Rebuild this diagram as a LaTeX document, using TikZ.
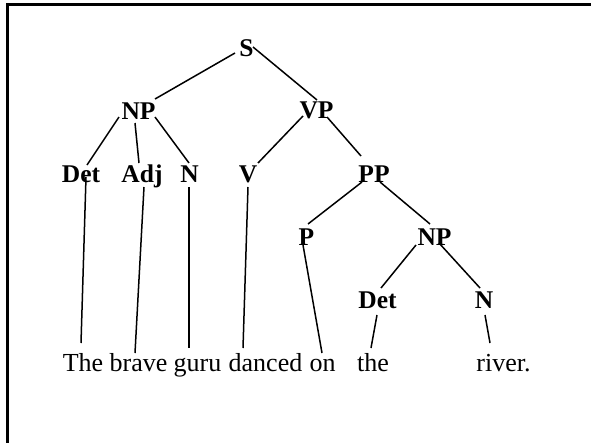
\documentclass[tikz,border=0pt]{standalone}
\usepackage{fontspec}
\setmainfont{Liberation Serif}
\begin{document}
\begin{tikzpicture}[x=1pt,y=1pt,
  cat/.style={anchor=base,inner sep=0pt,font=\fontsize{25.5}{30}\selectfont\bfseries},
  word/.style={anchor=base,inner sep=0pt,font=\fontsize{26}{30}\selectfont},
  branch/.style={line width=1.5pt,black},
  frame/.style={line width=3pt,black}]
\useasboundingbox (0,0) rectangle (591,-442);
\clip (0,0) rectangle (591,-442);
\draw[frame] (7.5,-460) |- (610,-4.5);
% category labels
\node[cat] (S)    at (246.5,-56)  {S};
\node[cat] (NP)   at (138.5,-119) {NP};
\node[cat] (VP)   at (316.5,-118) {VP};
\node[cat] (Det)  at (81,-182)    {Det};
\node[cat] (Adj)  at (142,-182)   {Adj};
\node[cat] (N)    at (189.5,-182) {N};
\node[cat] (V)    at (248,-182)   {V};
\node[cat] (PP)   at (374,-182)   {PP};
\node[cat] (P)    at (306.5,-245) {P};
\node[cat] (NPb)  at (434.5,-245) {NP};
\node[cat] (Detb) at (377.5,-308) {Det};
\node[cat] (Nb)   at (484,-308)   {N};
% words
\node[word] (w1) at (83,-371)    {The};
\node[word] (w2) at (138.5,-371) {brave};
\node[word] (w3) at (197.5,-371) {guru};
\node[word] (w4) at (265.5,-371) {danced};
\node[word] (w5) at (322.5,-371) {on};
\node[word] (w6) at (373,-371)   {the};
\node[word] (w7) at (503.5,-371) {river.};
% branches
\draw[branch] ([shift={(-11.5,3)}]S.base) -- ([shift={(16.5,20)}]NP.base);
\draw[branch] ([shift={(6.5,9)}]S.base) -- ([shift={(0.5,18)}]VP.base);
\draw[branch] ([shift={(-19.5,2)}]NP.base) -- ([shift={(6,17)}]Det.base);
\draw[branch] ([shift={(-3.5,-4)}]NP.base) -- ([shift={(-3,19)}]Adj.base);
\draw[branch] ([shift={(16.5,2)}]NP.base) -- ([shift={(-0.5,19)}]N.base);
\draw[branch] ([shift={(-13.5,2)}]VP.base) -- ([shift={(10,19)}]V.base);
\draw[branch] ([shift={(10.5,1)}]VP.base) -- ([shift={(-13,26)}]PP.base);
\draw[branch] ([shift={(-12,0)}]PP.base) -- ([shift={(1.5,21)}]P.base);
\draw[branch] ([shift={(6,0)}]PP.base) -- ([shift={(-4.5,21)}]NPb.base);
\draw[branch] ([shift={(-18.5,0)}]NPb.base) -- ([shift={(3.5,20)}]Detb.base);
\draw[branch] ([shift={(4.5,2)}]NPb.base) -- ([shift={(-4,20)}]Nb.base);
% leaves
\draw[branch] ([shift={(5,5)}]Det.base) -- ([shift={(-2,28)}]w1.base);
\draw[branch] ([shift={(2,-5)}]Adj.base) -- ([shift={(-3.5,18)}]w2.base);
\draw[branch] ([shift={(-0.5,-5)}]N.base) -- ([shift={(-8.5,23)}]w3.base);
\draw[branch] ([shift={(0,-5)}]V.base) -- ([shift={(-22.5,23)}]w4.base);
\draw[branch] ([shift={(-3.5,0)}]P.base) -- ([shift={(-0.5,18)}]w5.base);
\draw[branch] ([shift={(-0.5,-7)}]Detb.base) -- ([shift={(-2,23)}]w6.base);
\draw[branch] ([shift={(1,-7)}]Nb.base) -- ([shift={(-13.5,28)}]w7.base);
\end{tikzpicture}
\end{document}
